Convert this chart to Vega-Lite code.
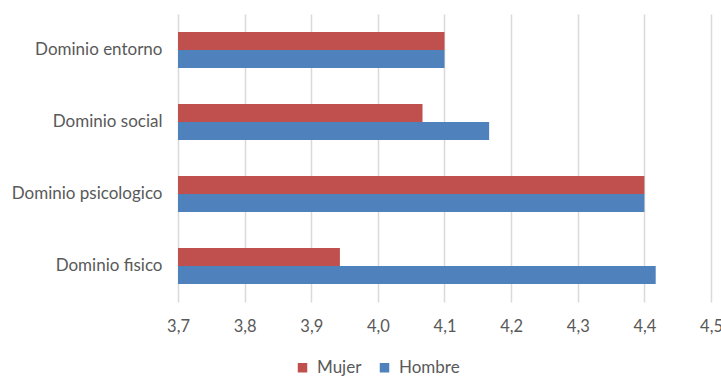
{
  "$schema": "https://vega.github.io/schema/vega-lite/v6.json",
  "width": 533,
  "height": 288,
  "autosize": {"type": "none"},
  "padding": {"left": 178, "top": 14, "right": 10, "bottom": 74},
  "background": "white",
  "config": {
    "view": {"stroke": null},
    "font": "Lato",
    "axis": {"labelColor": "#595959", "labelFontSize": 16.5, "labelFont": "Lato"},
    "legend": {"labelColor": "#595959", "labelFontSize": 17, "labelFont": "Lato"}
  },
  "data": {
    "values": [
      {"dominio": "Dominio entorno", "sexo": "Mujer", "valor": 4.1},
      {"dominio": "Dominio entorno", "sexo": "Hombre", "valor": 4.1},
      {"dominio": "Dominio social", "sexo": "Mujer", "valor": 4.067},
      {"dominio": "Dominio social", "sexo": "Hombre", "valor": 4.167},
      {"dominio": "Dominio psicologico", "sexo": "Mujer", "valor": 4.4},
      {"dominio": "Dominio psicologico", "sexo": "Hombre", "valor": 4.4},
      {"dominio": "Dominio fisico", "sexo": "Mujer", "valor": 3.943},
      {"dominio": "Dominio fisico", "sexo": "Hombre", "valor": 4.417}
    ]
  },
  "mark": {"type": "bar", "clip": true},
  "encoding": {
    "y": {
      "field": "dominio",
      "type": "nominal",
      "sort": ["Dominio entorno", "Dominio social", "Dominio psicologico", "Dominio fisico"],
      "scale": {"paddingInner": 0.5, "paddingOuter": 0.25},
      "axis": {"title": null, "domain": false, "ticks": false, "grid": false, "labelPadding": 16, "labelFontSize": 17}
    },
    "yOffset": {
      "field": "sexo",
      "type": "nominal",
      "sort": ["Mujer", "Hombre"],
      "scale": {"paddingInner": 0, "paddingOuter": 0}
    },
    "x": {
      "field": "valor",
      "type": "quantitative",
      "scale": {"domain": [3.7, 4.5], "zero": false, "nice": false},
      "axis": {
        "title": null,
        "domain": false,
        "ticks": false,
        "values": [3.7, 3.8, 3.9, 4.0, 4.1, 4.2, 4.3, 4.4, 4.5],
        "labelExpr": "replace(format(datum.value, '.1f'), '.', ',')",
        "gridColor": "#d9d9d9",
        "gridWidth": 1.5,
        "labelPadding": 16,
        "labelFlush": false
      }
    },
    "color": {
      "field": "sexo",
      "type": "nominal",
      "sort": ["Mujer", "Hombre"],
      "scale": {"domain": ["Mujer", "Hombre"], "range": ["#C0504D", "#4F81BD"]},
      "legend": {
        "title": null,
        "orient": "none",
        "direction": "horizontal",
        "legendX": 116,
        "legendY": 345,
        "symbolType": "square",
        "symbolSize": 90,
        "symbolStrokeWidth": 0,
        "columnPadding": 14,
        "labelOffset": 6,
        "padding": 0
      }
    }
  }
}
